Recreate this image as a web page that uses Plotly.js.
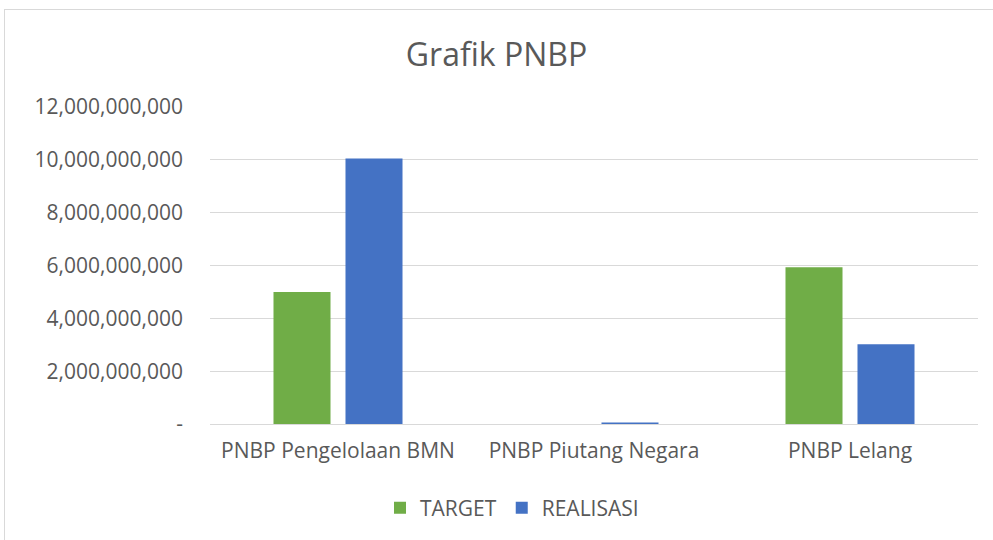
<!DOCTYPE html>
<html>
<head>
<meta charset="utf-8">
<script src="https://cdn.plot.ly/plotly-3.0.1.min.js"></script>
<style>
  html, body { margin: 0; padding: 0; background: #fff; overflow: hidden; }
  #frame { position: absolute; left: 4px; top: 9px; width: 1100px; height: 600px; border: 1px solid #d9d9d9; }
  #chart { position: absolute; left: 0; top: 0; width: 993px; height: 540px; }
</style>
</head>
<body>
<div id="frame"></div>
<div id="chart"></div>
<script>
// Data
const categories = ['PNBP Pengelolaan BMN', 'PNBP Piutang Negara', 'PNBP Lelang'];
const targetValues = [5000000000, 0, 5930000000];
const realisasiValues = [10050000000, 60000000, 3020000000];
const tickValues = [0, 2000000000, 4000000000, 6000000000, 8000000000, 10000000000, 12000000000];
const tickLabels = ['-', '2,000,000,000', '4,000,000,000', '6,000,000,000', '8,000,000,000', '10,000,000,000', '12,000,000,000'];

const fontFamily = '"Open Sans", "Liberation Sans", sans-serif';
const textColor = '#595959';

const targetTrace = {
    x: categories,
    y: targetValues,
    type: 'bar',
    name: 'TARGET',
    marker: { color: '#70ad47' },
    hoverinfo: 'skip'
};

const realisasiTrace = {
    x: categories,
    y: realisasiValues,
    type: 'bar',
    name: 'REALISASI',
    marker: { color: '#4472c4' },
    hoverinfo: 'skip'
};

const layout = {
    width: 993,
    height: 540,
    paper_bgcolor: 'rgba(0,0,0,0)',
    plot_bgcolor: 'rgba(0,0,0,0)',
    margin: { l: 210, r: 15, t: 107, b: 116 },
    font: { family: fontFamily, color: textColor, size: 21 },
    title: {
        text: 'Grafik PNBP',
        font: { family: fontFamily, size: 32, color: textColor },
        x: 0.5,
        xanchor: 'center',
        y: 1 - 55 / 540,
        yanchor: 'middle'
    },
    barmode: 'group',
    bargap: 0.4375,
    bargroupgap: 0.208,
    xaxis: {
        type: 'category',
        showgrid: false,
        showline: true,
        linecolor: '#d9d9d9',
        linewidth: 1,
        ticks: '',
        tickfont: { size: 21, color: textColor },
        ticklabelstandoff: 8
    },
    yaxis: {
        range: [0, 12000000000],
        tickmode: 'array',
        tickvals: tickValues,
        ticktext: tickLabels,
        showgrid: true,
        gridcolor: '#d9d9d9',
        gridwidth: 1,
        zeroline: false,
        showline: false,
        ticks: '',
        tickfont: { size: 21, color: textColor },
        ticklabelstandoff: 26
    },
    showlegend: true,
    legend: {
        orientation: 'h',
        x: (512 - 210) / 768,
        xanchor: 'center',
        y: -(508 - 424) / 317,
        yanchor: 'middle',
        font: { size: 21, color: textColor },
        itemwidth: 30,
        traceorder: 'normal'
    }
};

const config = { displayModeBar: false, staticPlot: true };

Plotly.newPlot('chart', [targetTrace, realisasiTrace], layout, config);
</script>
</body>
</html>
